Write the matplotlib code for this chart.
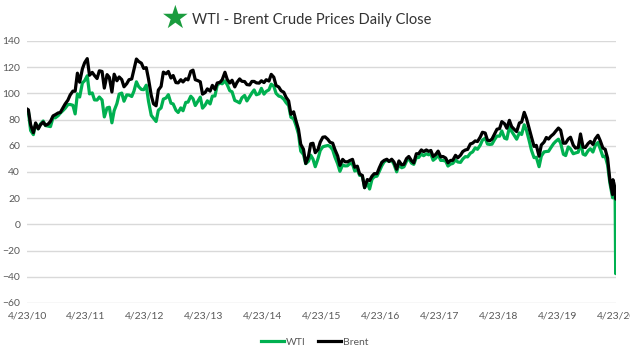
import pandas as pd
import matplotlib
matplotlib.use("Agg")
import matplotlib.pyplot as plt

# semi-monthly closes (1st / 15th)
start_date = "2010-04-23"
tail_dates = ["2020-04-03", "2020-04-09", "2020-04-15", "2020-04-17",
              "2020-04-20", "2020-04-21", "2020-04-22"]

wti = [
    85.1,
    86.2, 71.6, 68.5, 76.9, 72.9, 76.6, 78.9, 75.4, 75.0, 74.6, 81.6, 81.3, 82.9, 84.9, 86.8, 88.6,
    91.4, 91.5, 90.9, 84.3, 99.6, 97.2, 107.9, 109.7, 113.4, 99.6, 100.3, 95.0, 94.9, 97.2, 94.9, 82.0, 88.9, 89.4, 77.5, 86.8, 92.2, 99.4, 100.2, 94.0,
    98.8, 98.7, 97.6, 101.8, 108.8, 105.1, 103.0, 102.8, 106.2, 93.9, 83.2, 81.0, 78.5, 87.1, 88.9, 95.6, 96.5, 99.0, 92.5, 91.9, 87.1, 85.4, 88.9, 86.7,
    93.1, 93.3, 97.8, 95.9, 90.7, 93.5, 97.1, 88.7, 91.0, 94.3, 91.9, 97.9, 98.0, 106.3, 107.9, 107.3, 109.5, 106.6, 102.0, 101.2, 94.6, 93.8, 92.7, 96.6,
    98.4, 94.2, 97.5, 100.3, 102.6, 98.9, 99.7, 103.8, 99.4, 101.5, 102.7, 107.0, 105.4, 100.0, 97.9, 97.4, 95.5, 92.9, 90.7, 81.8, 80.5, 75.8, 69.0, 55.9,
    53.3, 46.3, 48.2, 52.8, 49.8, 44.0, 50.1, 56.4, 59.2, 59.7, 60.2, 59.5, 56.9, 51.4, 46.2, 40.5, 45.4, 44.6, 44.7, 46.4, 46.1, 40.7, 41.9, 37.4,
    37.0, 28.0, 31.6, 27.0, 34.4, 36.3, 36.8, 40.4, 44.8, 47.7, 49.0, 48.0, 48.9, 45.9, 40.1, 45.7, 43.2, 43.9, 48.2, 50.4, 46.7, 45.8, 51.1, 51.0,
    53.7, 52.4, 53.9, 53.1, 53.8, 48.9, 50.6, 53.2, 48.8, 48.8, 48.3, 44.5, 46.0, 46.5, 49.2, 47.6, 47.3, 49.9, 51.7, 51.5, 54.3, 55.3, 58.4, 57.3,
    60.4, 64.3, 65.8, 61.3, 61.0, 61.2, 64.9, 67.4, 67.3, 71.3, 65.8, 65.1, 74.2, 71.0, 67.7, 65.0, 69.8, 68.6, 76.0, 71.8, 63.7, 56.5, 50.9, 51.2,
    44.0, 52.1, 55.3, 55.6, 55.8, 58.5, 61.6, 63.4, 65.0, 62.0, 53.5, 52.5, 59.1, 57.6, 53.9, 54.5, 55.1, 62.9, 53.6, 52.8, 56.2, 57.7, 55.2, 60.1,
    62.5, 57.8, 51.6, 52.1, 45.3, 31.7, 20.3,
    28.3, 22.8, 19.9, 18.3, -37.6, 10.0, 13.8,
]

brent = [
    88.0,
    87.4, 76.0, 70.0, 77.4, 72.9, 76.0, 78.0, 75.6, 76.6, 78.6, 82.8, 83.7, 85.0, 85.4, 88.8, 91.9,
    94.8, 98.7, 101.7, 101.6, 115.4, 108.5, 118.7, 123.4, 126.5, 113.8, 116.0, 113.6, 111.3, 117.2, 116.7, 104.0, 114.3, 112.2, 101.0, 114.6, 109.6, 112.5, 110.5, 105.0,
    107.4, 110.4, 111.0, 118.5, 126.2, 124.3, 123.0, 119.0, 119.6, 111.0, 98.4, 92.0, 90.5, 102.5, 105.3, 116.2, 114.9, 116.7, 111.7, 113.6, 108.2, 108.0, 110.4, 108.7,
    111.1, 110.3, 116.8, 117.7, 110.4, 109.8, 108.8, 99.4, 100.6, 103.4, 101.7, 106.1, 103.0, 107.9, 108.4, 110.4, 116.1, 110.7, 107.9, 110.0, 104.9, 108.4, 111.0, 109.2,
    109.0, 106.7, 106.4, 109.1, 109.1, 108.0, 107.8, 109.6, 108.2, 110.4, 109.4, 114.5, 112.3, 106.0, 104.8, 102.0, 100.8, 97.0, 94.2, 84.0, 85.9, 79.3, 72.5, 61.1,
    57.3, 46.5, 52.0, 61.5, 61.9, 54.7, 57.1, 62.8, 66.5, 66.8, 64.9, 62.6, 62.0, 57.1, 52.2, 45.0, 49.6, 47.8, 47.7, 48.7, 49.6, 43.6, 44.4, 38.5,
    37.3, 28.0, 34.2, 33.4, 36.8, 38.7, 38.7, 43.1, 47.4, 48.8, 49.7, 48.0, 49.7, 47.6, 42.1, 48.4, 45.5, 45.8, 50.2, 51.8, 48.6, 46.9, 53.9, 53.9,
    56.8, 55.5, 56.8, 55.7, 56.4, 51.8, 53.5, 55.9, 51.5, 51.8, 50.6, 47.0, 48.8, 48.9, 52.7, 50.8, 52.8, 55.6, 56.8, 57.2, 61.4, 62.0, 63.7, 63.2,
    66.6, 70.3, 69.7, 64.3, 63.8, 65.1, 69.3, 72.6, 73.1, 78.4, 76.8, 73.4, 79.4, 74.6, 72.4, 70.8, 77.4, 78.1, 85.5, 80.8, 72.9, 66.6, 59.5, 60.3,
    52.0, 60.6, 62.8, 66.3, 65.1, 67.2, 69.0, 71.2, 73.5, 71.8, 61.9, 62.0, 65.1, 66.5, 60.5, 58.2, 58.7, 69.0, 58.9, 58.7, 61.7, 63.3, 61.0, 65.2,
    68.0, 64.0, 58.2, 57.3, 50.5, 33.9, 22.7,
    34.1, 31.5, 27.7, 28.1, 25.6, 19.3, 20.4,
]

dates = (pd.DatetimeIndex([start_date])
         .append(pd.date_range("2010-05-01", "2020-04-01", freq="SMS"))
         .append(pd.DatetimeIndex(tail_dates)))
assert len(dates) == len(wti) == len(brent), (len(dates), len(wti), len(brent))

tick_dates = pd.to_datetime([f"{y}-04-23" for y in range(2010, 2021)])
tick_labels = [f"4/23/{str(y)[2:]}" for y in range(2010, 2021)]

plt.rcParams["font.family"] = ["Lato", "DejaVu Sans"]

fig = plt.figure(figsize=(6.3, 3.56), dpi=100)
ax = fig.add_axes([0.043, 0.149, 0.935, 0.736])

ax.plot(dates, wti, color="#00b050", lw=2.3, label="WTI")
ax.plot(dates, brent, color="black", lw=2.3, label="Brent")

ax.set_ylim(-60, 140)
ax.set_yticks(range(-60, 141, 20))
ax.set_xlim(pd.Timestamp("2010-04-23"), pd.Timestamp("2020-04-23"))
ax.set_xticks(tick_dates)
ax.set_xticklabels(tick_labels)
ax.grid(axis="y", color="#d9d9d9", lw=1)
ax.set_axisbelow(True)
for s in ax.spines.values():
    s.set_visible(False)
ax.tick_params(length=0, labelsize=7.5, colors="#595959", pad=6)
ax.tick_params(axis="y", pad=5)

fig.text(0.279, 0.947, "\u2605", color="#1a9c3e", fontsize=23, ha="center", va="center",
         family="DejaVu Sans")
fig.text(0.305, 0.945, "WTI - Brent Crude Prices Daily Close", fontsize=10.5, color="#333333",
         ha="left", va="center")

fig.legend(loc="lower center", bbox_to_anchor=(0.5, 0.0), ncol=2, frameon=False,
           fontsize=7.5, handlelength=2.2, handletextpad=0.2, columnspacing=1.2,
           labelcolor="#595959")

fig.savefig("out.png", dpi=100)
